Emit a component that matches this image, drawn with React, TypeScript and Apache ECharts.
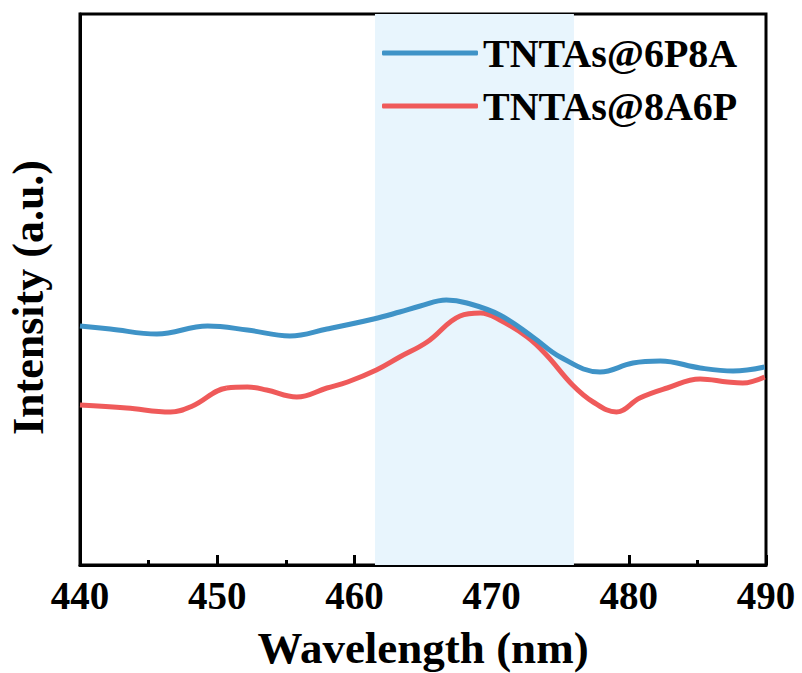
import React, { useEffect, useRef } from "react";
import * as echarts from "echarts";

const xTicks = [440, 450, 460, 470, 480, 490];
const seriesNames = ["TNTAs@6P8A", "TNTAs@8A6P"];

const blueX = [440.0, 442.2, 445.6, 449.3, 452.2, 455.3, 458.0, 461.4, 463.3, 464.8, 466.7, 468.2, 470.6, 473.0, 475.0, 477.9, 480.3, 482.3, 485.2, 487.6, 489.9];
const blueY = [239, 236, 231, 239, 235, 229, 236, 246, 253, 259, 265, 262, 250, 228, 208, 193, 202, 204, 197, 194, 198];

const redX = [440.0, 443.4, 446.6, 448.2, 450.7, 452.2, 453.6, 455.8, 458.0, 459.5, 461.6, 463.3, 465.3, 467.7, 469.2, 470.6, 472.6, 474.0, 475.9, 477.4, 479.1, 480.8, 482.8, 485.2, 487.2, 488.3, 489.9];
const redY = [160, 157, 153, 159, 177, 178, 175, 168, 177, 183, 195, 208, 223, 249, 252, 245, 228, 210, 180, 163, 153, 167, 177, 186, 183, 182, 188];

const bandRange = [461.5, 476];

const FONT = "'Liberation Serif', 'Times New Roman', serif";

export default function App() {
  const ref = useRef<HTMLDivElement>(null);
  useEffect(() => {
    if (!ref.current) return;
    const chart = echarts.init(ref.current, null, { renderer: "svg" });
    const zip = (xs: number[], ys: number[]) => xs.map((x, i) => [x, ys[i]]);
    chart.setOption({
      animation: false,
      grid: {
        left: 80, right: 36, top: 14, bottom: 108,
        outerBoundsMode: "none",
        containLabel: false,
        show: true, borderColor: "#000", borderWidth: 3,
      },
      legend: {
        data: seriesNames,
        orient: "vertical",
        left: 377,
        top: 28,
        itemGap: 13,
        icon: "roundRect",
        itemWidth: 96,
        itemHeight: 5,
        textStyle: { fontFamily: FONT, fontWeight: "bold", fontSize: 40, color: "#000" },
      },
      xAxis: {
        type: "value",
        min: xTicks[0],
        max: xTicks[xTicks.length - 1],
        interval: 10,
        name: "Wavelength (nm)",
        nameLocation: "middle",
        nameGap: 60,
        nameTextStyle: { fontFamily: FONT, fontWeight: "bold", fontSize: 45, color: "#000" },
        axisLine: { lineStyle: { color: "#000", width: 3 } },
        axisTick: { inside: true, length: 10, lineStyle: { color: "#000", width: 3 } },
        minorTick: { show: true, splitNumber: 2, length: 5, lineStyle: { color: "#000", width: 3 } },
        axisLabel: { fontFamily: FONT, fontWeight: "bold", fontSize: 39, color: "#000", margin: 11 },
        splitLine: { show: false },
      },
      yAxis: {
        type: "value",
        min: 0,
        max: 551,
        name: "Intensity (a.u.)",
        nameLocation: "middle",
        nameGap: 30,
        nameTextStyle: { fontFamily: FONT, fontWeight: "bold", fontSize: 44, color: "#000", padding: [0, 0, 0, -16] },
        axisLine: { show: true, lineStyle: { color: "#000", width: 3 } },
        axisTick: { show: false },
        axisLabel: { show: false },
        splitLine: { show: false },
      },
      series: [
        {
          name: "band",
          type: "line",
          data: [],
          z: 1,
          markArea: {
            silent: true,
            itemStyle: { color: "#e8f5fd" },
            data: [[{ xAxis: bandRange[0] }, { xAxis: bandRange[1] }]],
          },
        },
        {
          name: seriesNames[0],
          type: "line",
          data: zip(blueX, blueY),
          smooth: 0.4,
          showSymbol: false,
          z: 3,
          color: "#3f93c7",
          lineStyle: { width: 5, color: "#3f93c7" },
        },
        {
          name: seriesNames[1],
          type: "line",
          data: zip(redX, redY),
          smooth: 0.4,
          showSymbol: false,
          z: 2,
          color: "#ef5a5a",
          lineStyle: { width: 5, color: "#ef5a5a" },
        },
      ],
    });
    return () => chart.dispose();
  }, []);
  return <div ref={ref} style={{ width: 802, height: 673, position: "absolute", left: 0, top: 0 }} />;
}
